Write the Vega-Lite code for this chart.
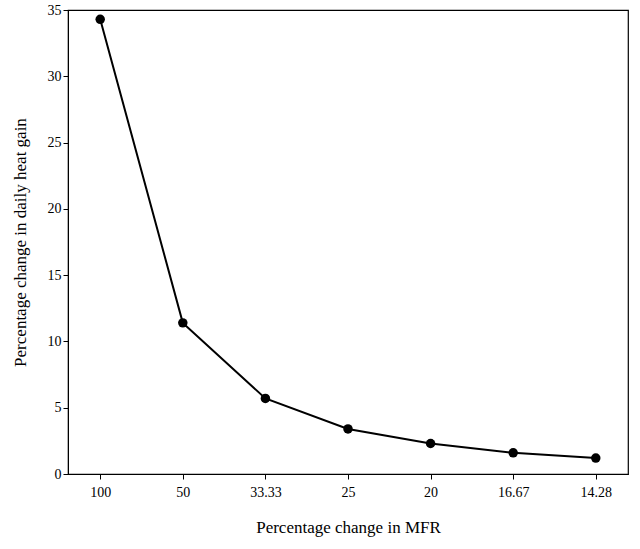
{
  "$schema": "https://vega.github.io/schema/vega-lite/v6.json",
  "width": 560,
  "height": 464,
  "autosize": {"type": "none"},
  "padding": {"left": 68, "top": 10, "right": 12, "bottom": 75},
  "background": "white",
  "config": {
    "font": "Liberation Serif",
    "view": {"stroke": "black", "strokeWidth": 1.2},
    "axis": {"grid": false, "domainColor": "black", "tickColor": "black", "labelColor": "black", "titleColor": "black", "labelFontSize": 14, "titleFontSize": 17, "titleFontWeight": "normal", "tickSize": 5}
  },
  "data": {
    "values": [
      {"mfr": "100", "gain": 34.3},
      {"mfr": "50", "gain": 11.4},
      {"mfr": "33.33", "gain": 5.7},
      {"mfr": "25", "gain": 3.4},
      {"mfr": "20", "gain": 2.3},
      {"mfr": "16.67", "gain": 1.6},
      {"mfr": "14.28", "gain": 1.2}
    ]
  },
  "encoding": {
    "x": {"field": "mfr", "type": "ordinal", "sort": null, "scale": {"type": "point", "padding": 0.39}, "axis": {"title": "Percentage change in MFR", "labelAngle": 0, "titlePadding": 20, "labelPadding": 6}},
    "y": {"field": "gain", "type": "quantitative", "scale": {"domain": [0, 35], "nice": false}, "axis": {"title": "Percentage change in daily heat gain", "values": [0, 5, 10, 15, 20, 25, 30, 35], "titlePadding": 18}}
  },
  "layer": [
    {"mark": {"type": "line", "color": "black", "strokeWidth": 2}},
    {"mark": {"type": "circle", "color": "black", "opacity": 1, "size": 90}}
  ]
}
